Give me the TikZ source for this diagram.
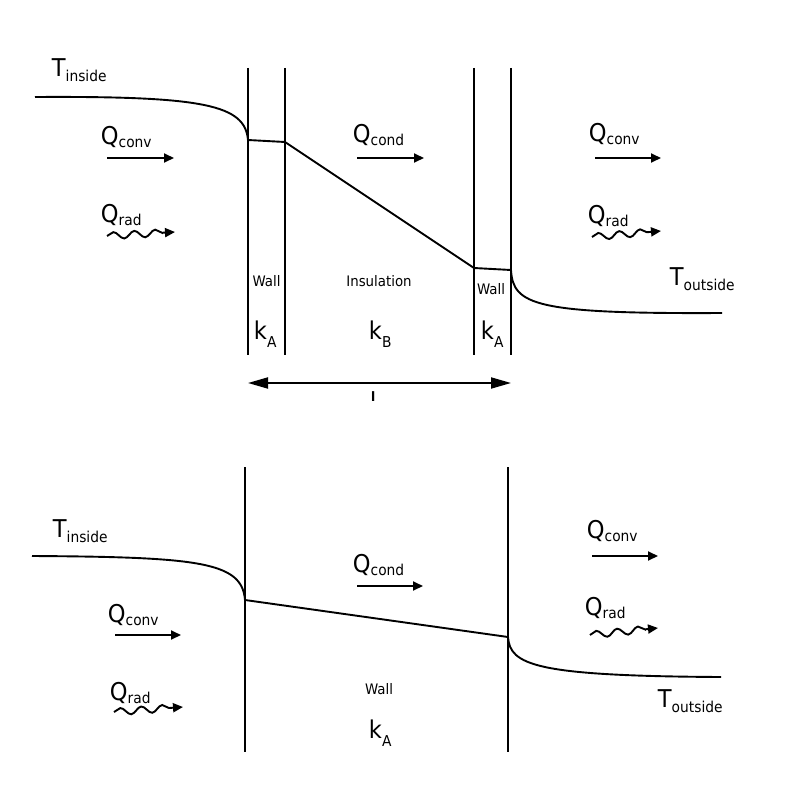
\documentclass[tikz,border=0pt]{standalone}
\usepackage{fontspec}
\setmainfont{DejaVu Sans}[FakeStretch=0.92]
\usetikzlibrary{arrows.meta,decorations.pathmorphing}
\newcommand{\sublbl}[3][4pt]{#2\raisebox{-#1}{\fontsize{15}{15}\selectfont #3}}

\begin{document}
\begin{tikzpicture}[x=1pt, y=-1pt, line width=1.9pt,
  lbl/.style={anchor=base west, inner sep=0pt, font=\fontsize{24.5}{24.5}\selectfont},
  small/.style={inner sep=0pt, font=\fontsize{14.5}{14.5}\selectfont},
  flow/.style={-{Triangle[length=10pt,width=9pt]}},
  wave/.style={-{Triangle[length=10pt,width=9pt]}, decorate,
    decoration={snake, segment length=21pt, amplitude=3.5pt, post length=8pt}},
  span/.style={{Triangle[length=20pt,width=11pt]}-{Triangle[length=20pt,width=11pt]}}]
\useasboundingbox (0,0) rectangle (806,800);
% composite wall
\coordinate (wa1) at (248,68);  \coordinate (wa2) at (248,355);
\coordinate (wb1) at (285,68);  \coordinate (wb2) at (285,355);
\coordinate (wc1) at (474,68);  \coordinate (wc2) at (474,355);
\coordinate (wd1) at (511,68);  \coordinate (wd2) at (511,355);
\draw (wa1) -- (wa2);
\draw (wb1) -- (wb2);
\draw (wc1) -- (wc2);
\draw (wd1) -- (wd2);
\coordinate (tin1) at (35,97);
\coordinate (ta) at (248,140);
\coordinate (tb) at (285,142);
\coordinate (tc) at (474,268);
\coordinate (td) at (511,270);
\coordinate (tout1) at (722,313);
\draw (tin1) .. controls (205,96) and (245,105) .. (ta) -- (tb) -- (tc) -- (td)
  .. controls (513,305) and (535,314) .. (tout1);
\node[lbl] (Tin1) at (51,77) {\sublbl[5pt]{T}{inside}};
\node[lbl] (Tout1) at (669,285) {\sublbl[5pt]{T}{outside}};
\node[lbl] (qconv1) at (100,144) {\sublbl[3pt]{Q}{conv}};
\node[lbl] (qrad1) at (100,222) {\sublbl[3pt]{Q}{rad}};
\node[lbl] (qcond1) at (352,142) {\sublbl[3pt]{Q}{cond}};
\node[lbl] (qconv2) at (588,141) {\sublbl[3pt]{Q}{conv}};
\node[lbl] (qrad2) at (587,223) {\sublbl[3pt]{Q}{rad}};
\coordinate (c1s) at (107,158); \coordinate (c1e) at (174,158);
\coordinate (d1s) at (357,158); \coordinate (d1e) at (424,158);
\coordinate (c2s) at (595,158); \coordinate (c2e) at (661,158);
\coordinate (r1s) at (107,236); \coordinate (r1e) at (175,232);
\coordinate (r2s) at (592,237); \coordinate (r2e) at (661,231);
\draw[flow] (c1s) -- (c1e);
\draw[flow] (d1s) -- (d1e);
\draw[flow] (c2s) -- (c2e);
\draw[wave] (r1s) -- (r1e);
\draw[wave] (r2s) -- (r2e);
\node[small] (wall1) at (266.5,281) {Wall};
\node[small] (ins) at (379,281) {Insulation};
\node[small] (wall2) at (491,289) {Wall};
\node[lbl] (kA1) at (253,339) {\sublbl[8pt]{k}{A}};
\node[lbl] (kB) at (368,339) {\sublbl[8pt]{k}{B}};
\node[lbl] (kA2) at (480,339) {\sublbl[8pt]{k}{A}};
\coordinate (la) at (248,383); \coordinate (lb) at (511,383);
\draw[span] (la) -- (lb);
\begin{scope}
\clip (340,388) rectangle (420,400);
\node[lbl] (len) at (369,409) {L};
\end{scope}
% single wall
\coordinate (we1) at (245,467); \coordinate (we2) at (245,752);
\coordinate (wf1) at (508,467); \coordinate (wf2) at (508,752);
\draw (we1) -- (we2);
\draw (wf1) -- (wf2);
\coordinate (tin2) at (32,556);
\coordinate (te) at (245,600);
\coordinate (tf) at (508,637);
\coordinate (tout2) at (721,677);
\draw (tin2) .. controls (200,557) and (242,562) .. (te) -- (tf)
  .. controls (510,665) and (535,676) .. (tout2);
\node[lbl] (Tin2) at (52,537) {\sublbl[5pt]{T}{inside}};
\node[lbl] (Tout2) at (657,707) {\sublbl[5pt]{T}{outside}};
\node[lbl] (qconv3) at (107,622) {\sublbl[3pt]{Q}{conv}};
\node[lbl] (qrad3) at (109,700) {\sublbl[3pt]{Q}{rad}};
\node[lbl] (qcond2) at (352,572) {\sublbl[3pt]{Q}{cond}};
\node[lbl] (qconv4) at (586,538) {\sublbl[3pt]{Q}{conv}};
\node[lbl] (qrad4) at (584,615) {\sublbl[3pt]{Q}{rad}};
\coordinate (c3s) at (115,635); \coordinate (c3e) at (181,635);
\coordinate (d2s) at (357,586); \coordinate (d2e) at (423,586);
\coordinate (c4s) at (592,556); \coordinate (c4e) at (658,556);
\coordinate (r3s) at (114,712); \coordinate (r3e) at (183,707);
\coordinate (r4s) at (590,635); \coordinate (r4e) at (658,628);
\draw[flow] (c3s) -- (c3e);
\draw[flow] (d2s) -- (d2e);
\draw[flow] (c4s) -- (c4e);
\draw[wave] (r3s) -- (r3e);
\draw[wave] (r4s) -- (r4e);
\node[small] (wall3) at (379,689) {Wall};
\node[lbl] (kA3) at (368,738) {\sublbl[8pt]{k}{A}};
\end{tikzpicture}
\end{document}
